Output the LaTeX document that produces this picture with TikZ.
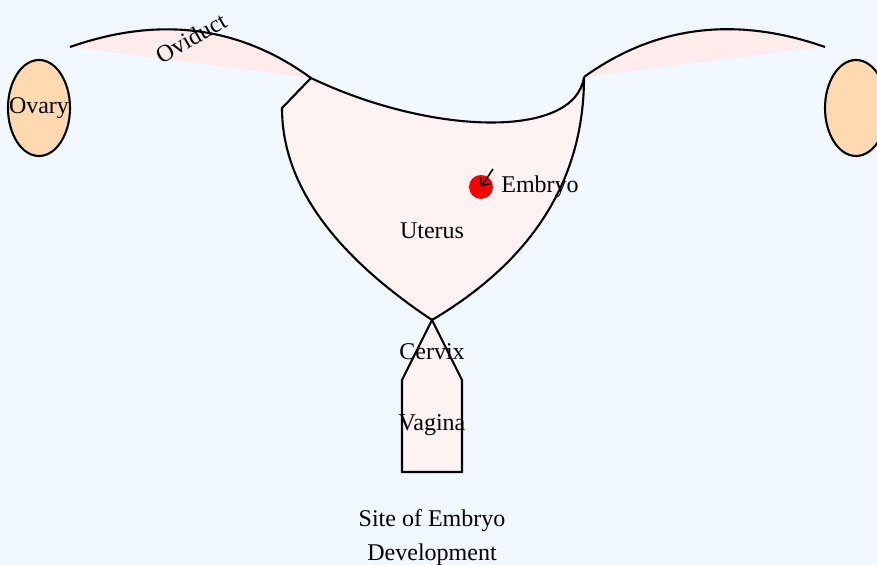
\documentclass[tikz,border=0pt]{standalone}
\usepackage{fontspec}
\setmainfont{Liberation Serif}
\usetikzlibrary{shapes.geometric,arrows.meta}
\definecolor{bgcol}{HTML}{F2F8FF}
\definecolor{ovfill}{HTML}{FFEAEC}
\definecolor{utfill}{HTML}{FFF2F2}
\definecolor{ovaryfill}{HTML}{FFDAB0}
\tikzset{
  organ/.style={draw=black, line width=1.05pt},
  lbl/.style={font=\fontsize{12pt}{17pt}\selectfont, inner sep=0pt},
  ovaryshape/.style={ellipse, draw=black, line width=1.05pt, fill=ovaryfill, minimum width=31pt, minimum height=48pt, inner sep=0pt},
  pointer/.style={line width=0.8pt, -{Straight Barb[length=3.5pt,width=6pt]}}
}
\begin{document}
\begin{tikzpicture}[x=0.5pt,y=-0.5pt]
\fill[bgcol] (0,0) rectangle (877,565);
\useasboundingbox (0,0) rectangle (877,565);
% key points
\coordinate (ovLs) at (70,47);
\coordinate (ovRe) at (825,47);
\coordinate (A) at (311,78);
\coordinate (B) at (282,108);
\coordinate (C) at (432,320);
\coordinate (D) at (584,77);
\coordinate (cxR) at (462,380);
\coordinate (vaRB) at (462,472);
\coordinate (vaLB) at (402,472);
\coordinate (cxL) at (402,380);
% oviducts
\draw[organ, fill=ovfill] (ovLs) .. controls (159.3,15.7) and (239.7,26) .. (A);
\draw[organ, fill=ovfill] (D) .. controls (655.3,25.7) and (735.7,15.7) .. (ovRe);
% uterus
\draw[organ, fill=utfill] (A) -- (B) .. controls (282,182.7) and (332,253.3) .. (C) .. controls (533.3,260) and (584,179) .. (D) .. controls (575,140) and (430,135) .. (A) -- cycle;
% cervix and vagina
\draw[organ, fill=utfill] (C) -- (cxR) -- (vaRB) -- (vaLB) -- (cxL) -- cycle;
% ovaries
\node[ovaryshape] (ovaryL) at (39,108) {};
\node[ovaryshape] (ovaryR) at (856,108) {};
\node[lbl] (ovaryLbl) at (ovaryL.center) {Ovary};
% embryo
\node[circle, fill=red, minimum size=12pt, inner sep=0pt] (emb) at (481,187) {};
\coordinate (arrS) at (493,169);
\draw[pointer] (arrS) -- (emb.center);
\node[lbl, anchor=west] (embLbl) at (501,187) {Embryo};
% labels
\node[lbl, rotate=30] (ovdLbl) at (191,38) {Oviduct};
\node[lbl] (utLbl) at (432,231) {Uterus};
\node[lbl] (cxLbl) at (432,352) {Cervix};
\node[lbl] (vaLbl) at (432,425) {Vagina};
\node[lbl, align=center] (siteLbl) at (432,538) {Site of Embryo\\Development};
\end{tikzpicture}
\end{document}
